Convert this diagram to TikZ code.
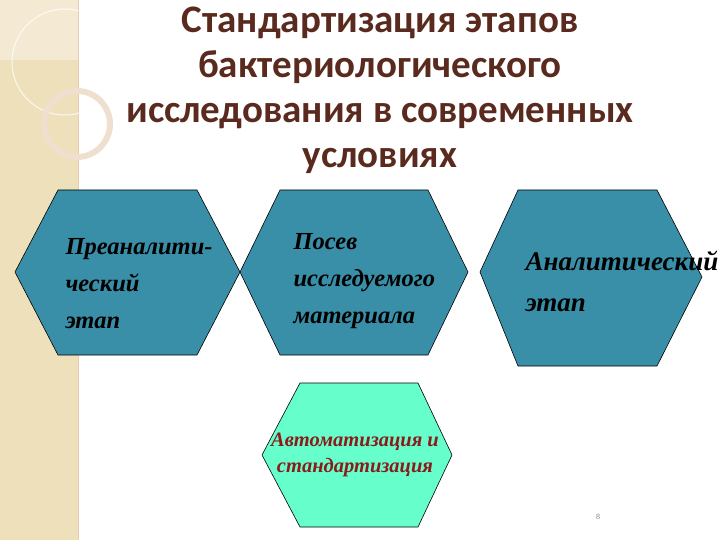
\documentclass[tikz,border=0pt]{standalone}
\usepackage{fontspec}
\setmainfont{Liberation Serif}
\newfontfamily\titlefont{Carlito}
\definecolor{teal1}{HTML}{3A8FA8}
\definecolor{mint}{HTML}{66FFCC}
\definecolor{brownt}{HTML}{5A2A1E}
\definecolor{beige}{HTML}{EFE0BC}
\definecolor{redt}{HTML}{8B1A1A}
\begin{document}
\begin{tikzpicture}[x=1pt,y=-1pt,
  hexa/.style={fill=teal1,draw=black,line width=0.6pt},
  lbl/.style={font=\bfseries\itshape\fontsize{24.5}{37}\selectfont,align=left,anchor=west}]
\useasboundingbox (0,0) rectangle (720,540);
\clip (0,0) rectangle (720,540);
% left stripe
\fill[beige] (0,0) rectangle (78,540);
\draw[color=brown!40,line width=1pt] (78,0) -- (78,540);
\fill[white,opacity=0.35] (0,0) rectangle (78,60);
\draw[white,opacity=0.8,line width=1pt] (65,62) circle (53);
\draw[color=brown!25,line width=6pt] (77,124) circle (33);
% title
\node (title) at (380,90) [font=\titlefont\bfseries\fontsize{39}{45}\selectfont,text=brownt,align=center]
 {Стандартизация этапов\\бактериологического\\исследования в современных\\условиях};
% hexagons
\draw[hexa] (58,190) -- (197,190) -- (240,272) -- (197,355) -- (58,355) -- (15,272) -- cycle;
\node (h1) [lbl] at (62,284) {Преаналити-\\ческий\\этап};
\draw[hexa] (280,190) -- (428,190) -- (468,272) -- (428,355) -- (280,355) -- (240,272) -- cycle;
\node (h2) [lbl] at (290,281) {Посев\\исследуемого\\материала};
\draw[hexa] (518,190) -- (657,190) -- (702,277) -- (657,366) -- (518,366) -- (480,272) -- cycle;
\node (h3) [lbl,font=\bfseries\itshape\fontsize{27}{41}\selectfont] at (522,281) {Аналитический\\этап};
\draw[fill=mint,draw=black,line width=0.6pt] (300,383) -- (418,383) -- (452,455) -- (418,527) -- (300,527) -- (262,455) -- cycle;
\node (h4) at (355,455) [font=\bfseries\itshape\fontsize{20.5}{26}\selectfont,text=redt,align=center] {Автоматизация и\\стандартизация};
\node (pg) at (598,517) [font=\fontsize{8}{10}\selectfont,text=gray] {8};
\end{tikzpicture}
\end{document}
